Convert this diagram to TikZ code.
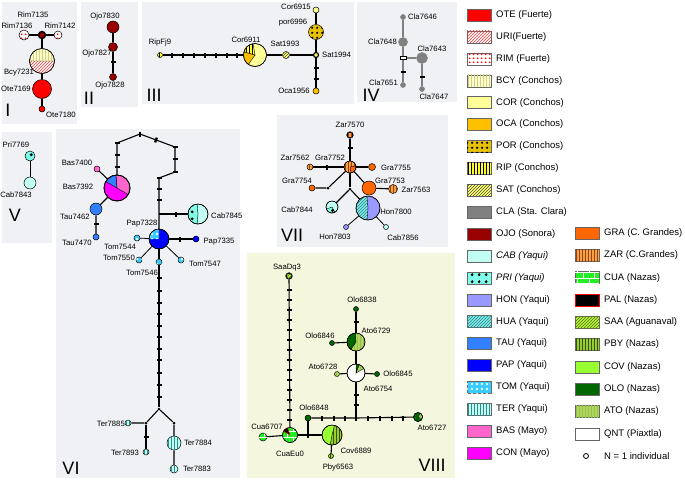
\documentclass[tikz,border=0pt]{standalone}
\usepackage{fontspec}
\setmainfont{Liberation Sans}
\usetikzlibrary{patterns}
\pgfdeclarepatternformonly{bigdots}{\pgfqpoint{0pt}{0pt}}{\pgfqpoint{4pt}{4pt}}{\pgfqpoint{4pt}{4pt}}{\pgfpathcircle{\pgfqpoint{2pt}{2pt}}{1.1pt}\pgfusepath{fill}}
\pgfdeclarepatternformonly{pordots}{\pgfqpoint{0pt}{0pt}}{\pgfqpoint{5pt}{5pt}}{\pgfqpoint{5pt}{5pt}}{\pgfpathcircle{\pgfqpoint{2.5pt}{2.5pt}}{1.4pt}\pgfusepath{fill}}
\pgfdeclarepatternformonly{pridots}{\pgfqpoint{0pt}{0pt}}{\pgfqpoint{7pt}{7pt}}{\pgfqpoint{7pt}{7pt}}{\pgfpathcircle{\pgfqpoint{3.5pt}{3.5pt}}{1.7pt}\pgfusepath{fill}}
\pgfdeclarepatternformonly{xmarks}{\pgfqpoint{0pt}{0pt}}{\pgfqpoint{5pt}{5pt}}{\pgfqpoint{5pt}{5pt}}{\pgfsetlinewidth{0.6pt}\pgfpathmoveto{\pgfqpoint{1pt}{1pt}}\pgfpathlineto{\pgfqpoint{3.5pt}{3.5pt}}\pgfpathmoveto{\pgfqpoint{1pt}{3.5pt}}\pgfpathlineto{\pgfqpoint{3.5pt}{1pt}}\pgfusepath{stroke}}
\definecolor{pgray}{HTML}{F0F1F5}
\definecolor{pyel}{HTML}{F4F6DD}
\definecolor{cOTE}{HTML}{FF0000}
\definecolor{cBCY}{HTML}{FFFFD0}
\definecolor{cBCYl}{HTML}{D0D080}
\definecolor{cCOR}{HTML}{FFFF99}
\definecolor{cOCA}{HTML}{FFC000}
\definecolor{cPOR}{HTML}{E6C200}
\definecolor{cRIP}{HTML}{FFFF33}
\definecolor{cSAT}{HTML}{FFFF66}
\definecolor{cCLA}{HTML}{808080}
\definecolor{cOJO}{HTML}{990000}
\definecolor{cCAB}{HTML}{C0FFF2}
\definecolor{cPRI}{HTML}{80FFEA}
\definecolor{cHON}{HTML}{9999FF}
\definecolor{cHUA}{HTML}{80E8E8}
\definecolor{cHUAl}{HTML}{2E8B8B}
\definecolor{cTAU}{HTML}{3380FF}
\definecolor{cPAP}{HTML}{0000FF}
\definecolor{cTOM}{HTML}{33CCFF}
\definecolor{cTER}{HTML}{C0FFF2}
\definecolor{cTERl}{HTML}{2E8B8B}
\definecolor{cBAS}{HTML}{FF66CC}
\definecolor{cCON}{HTML}{FF00FF}
\definecolor{cGRA}{HTML}{FF6600}
\definecolor{cZAR}{HTML}{FFA040}
\definecolor{cZARl}{HTML}{8B4513}
\definecolor{cCUA}{HTML}{22EE22}
\definecolor{cSAA}{HTML}{B8F040}
\definecolor{cSAAl}{HTML}{4D7A00}
\definecolor{cPBY}{HTML}{99CC33}
\definecolor{cPBYl}{HTML}{335500}
\definecolor{cCOV}{HTML}{99FF33}
\definecolor{cOLO}{HTML}{006600}
\definecolor{cATO}{HTML}{B0D860}
\definecolor{cATOl}{HTML}{98C048}
\newcommand\hap[4]{\node[hap, minimum size=#3, #4] (#1) at #2 {};}
\newcommand\hwedge[5]{\filldraw[#5, draw=black, line width=0.4pt] (#1.center) -- ++(#3:#2) arc[start angle=#3, end angle=#4, radius=#2] -- cycle;}
\newcommand\rimline[2]{\draw[line width=0.5pt] (#1.center) circle[radius=#2];}
\begin{document}
\begin{tikzpicture}[x=1pt,y=1pt,
 hap/.style={circle, draw=black, line width=0.5pt, inner sep=0pt},
 ln/.style={line width=1.1pt, black},
 lng/.style={line width=1.1pt, cCLA},
 tk/.style={fill=black, inner sep=0pt, minimum width=5pt, minimum height=2.4pt, rotate=#1},
 tk/.default=0,
 jdot/.style={circle, fill=black, inner sep=0pt, minimum size=3pt},
 lab/.style={font=\fontsize{7.7}{8}\selectfont, inner sep=0pt},
 pnum/.style={font=\fontsize{18}{18}\selectfont, inner sep=0pt},
 lgbox/.style={rectangle, draw=black!60, line width=0.4pt, minimum width=24pt, minimum height=12pt, inner sep=0pt},
 lgtext/.style={font=\fontsize{9.5}{10}\selectfont, inner sep=0pt, anchor=west},
 fOTE/.style={fill=cOTE},
 fURI/.style={fill=white, postaction={pattern=north east lines, pattern color=red!80}},
 fRIM/.style={fill=white, postaction={pattern=bigdots, pattern color=red}},
 fBCY/.style={fill=cBCY, postaction={pattern=vertical lines, pattern color=cBCYl}},
 fCOR/.style={fill=cCOR},
 fOCA/.style={fill=cOCA},
 fPOR/.style={fill=cPOR, postaction={pattern=pordots, pattern color=black}},
 fRIP/.style={fill=cRIP, postaction={pattern=vertical lines, pattern color=black}},
 fSAT/.style={fill=cSAT, postaction={pattern=north east lines, pattern color=black!70}},
 fCLA/.style={fill=cCLA},
 fOJO/.style={fill=cOJO},
 fCAB/.style={fill=cCAB},
 fPRI/.style={fill=cPRI, postaction={pattern=pridots, pattern color=black}},
 fHON/.style={fill=cHON},
 fHUA/.style={fill=cHUA, postaction={pattern=north east lines, pattern color=cHUAl}},
 fTAU/.style={fill=cTAU},
 fPAP/.style={fill=cPAP},
 fTOM/.style={fill=cTOM, postaction={pattern=xmarks, pattern color=white}},
 fTER/.style={fill=cTER, postaction={pattern=vertical lines, pattern color=cTERl}},
 fBAS/.style={fill=cBAS},
 fCON/.style={fill=cCON},
 fGRA/.style={fill=cGRA},
 fZAR/.style={fill=cZAR, postaction={pattern=vertical lines, pattern color=cZARl}},
 fCUA/.style={fill=cCUA, postaction={pattern=bricks, pattern color=white}},
 fPAL/.style={fill=black},
 fSAA/.style={fill=cSAA, postaction={pattern=north east lines, pattern color=cSAAl}},
 fPBY/.style={fill=cPBY, postaction={pattern=vertical lines, pattern color=cPBYl}},
 fCOV/.style={fill=cCOV},
 fOLO/.style={fill=cOLO},
 fATO/.style={fill=cATO, postaction={pattern=vertical lines, pattern color=cATOl}},
 fQNT/.style={fill=white}]
\useasboundingbox (0,0) rectangle (685,-480);
\fill[white] (0,0) rectangle (685,-480);
% panels
\fill[pgray] (2,-2) rectangle (77,-124);
\fill[pgray] (81,-2) rectangle (138,-107);
\fill[pgray] (142,-2) rectangle (354,-104);
\fill[pgray] (357,-2) rectangle (457,-102);
\fill[pgray] (2,-132) rectangle (52,-243);
\fill[pgray] (56,-129) rectangle (240,-478);
\fill[pgray] (277,-115) rectangle (448,-247);
\fill[pyel] (247,-253) rectangle (455,-478);

% ---------- Panel I
\hap{rim7136}{(24,-35)}{10pt}{fRIM}
\node[hap, minimum size=7pt, fill=cOJO, line width=1.4pt] (rim7135) at (42,-35) {};
\hap{rim7142}{(58,-35)}{8pt}{fRIM}
\hap{bcy7231}{(42,-61)}{25pt}{fURI}
\hwedge{bcy7231}{12.5pt}{0}{180}{fBCY}
\rimline{bcy7231}{12.5pt}
\hap{ote7169}{(42,-89)}{19pt}{fOTE}
\hap{ote7180}{(42,-109)}{6pt}{fOTE}
\draw[ln] (rim7136) -- (rim7135) -- (rim7142);
\draw[ln] (rim7135) -- (bcy7231) -- (ote7169) -- (ote7180);
\node[lab] (lrim7135) at (33,-15) {Rim7135};
\node[lab] (lrim7136) at (17,-26) {Rim7136};
\node[lab] (lrim7142) at (60,-26) {Rim7142};
\node[lab] (lbcy7231) at (19,-73) {Bcy7231};
\node[lab, anchor=west] (lote7169) at (1,-89) {Ote7169};
\node[lab] (lote7180) at (61,-115) {Ote7180};
\node[pnum] (nI) at (8,-110) {I};

% ---------- Panel II
\hap{ojo7830}{(113,-27)}{12pt}{fOJO}
\hap{ojo7827}{(113,-47)}{9pt}{fOJO}
\hap{ojo7828}{(113,-77)}{7pt}{fOJO}
\draw[ln] (ojo7830) -- (ojo7827) -- (ojo7828);
\node[tk] (t2a) at (113,-62) {};
\node[lab] (lojo7830) at (105,-17) {Ojo7830};
\node[lab] (lojo7827) at (97,-54) {Ojo7827};
\node[lab] (lojo7828) at (110,-86) {Ojo7828};
\node[pnum] (nII) at (89,-98) {II};

% ---------- Panel III
\hap{ripfj9}{(160,-55)}{5pt}{fRIP}
\hap{cor6911}{(255,-55)}{23pt}{fCOR}
\hwedge{cor6911}{11.5pt}{100}{165}{fRIP}
\hwedge{cor6911}{11.5pt}{165}{235}{fOCA}
\rimline{cor6911}{11.5pt}
\hap{sat1993}{(286,-55)}{7pt}{fSAT}
\node[hap, minimum size=5pt, fill=cSAT, line width=1.2pt] (sat1994) at (316,-55) {};
\hap{cor6915}{(316,-10)}{6pt}{fCOR}
\hap{por6996}{(316,-32)}{15pt}{fPOR}
\hap{oca1956}{(316,-91)}{6pt}{fOCA}
\draw[ln] (ripfj9) -- (cor6911) -- (sat1993) -- (sat1994);
\draw[ln] (cor6915) -- (por6996) -- (sat1994) -- (oca1956);
\foreach \x [count=\i] in {172,183,194,205,216,227,237} \node[tk=90] (t3\i) at (\x,-55) {};
\node[tk] (t3h) at (316,-68) {};
\node[tk] (t3j) at (316,-79) {};
\node[lab] (lripfj9) at (160,-43) {RipFj9};
\node[lab] (lcor6911) at (246,-40) {Cor6911};
\node[lab] (lsat1993) at (285,-44) {Sat1993};
\node[lab, anchor=west] (lsat1994) at (322,-55) {Sat1994};
\node[lab] (lcor6915) at (296,-7) {Cor6915};
\node[lab] (lpor6996) at (293,-23) {por6996};
\node[lab] (loca1956) at (294,-91) {Oca1956};
\node[pnum] (nIII) at (154,-95) {III};

% ---------- Panel IV
\hap{cla7646}{(403,-17)}{5pt}{fCLA, draw=cCLA}
\hap{cla7648}{(403,-42)}{9pt}{fCLA, draw=cCLA}
\hap{cla7643}{(422,-58)}{11pt}{fCLA, draw=cCLA}
\hap{cla7651}{(403,-85)}{5pt}{fCLA, draw=cCLA}
\hap{cla7647}{(422,-89)}{5pt}{fCLA, draw=cCLA}
\coordinate (j4) at (403,-58);
\draw[lng] (cla7646) -- (cla7648) -- (j4) -- (cla7651);
\draw[lng] (j4) -- (cla7643) -- (cla7647);
\node[draw=black, fill=white, line width=0.7pt, minimum width=6pt, minimum height=3pt, inner sep=0pt] (box4) at (403,-58) {};
\node[tk] (t4a) at (403,-72) {};
\node[tk] (t4b) at (422,-77) {};
\node[lab, anchor=west] (lcla7646) at (408,-17) {Cla7646};
\node[lab, anchor=east] (lcla7648) at (397,-42) {Cla7648};
\node[lab] (lcla7643) at (432,-49) {Cla7643};
\node[lab, anchor=east] (lcla7651) at (398,-83) {Cla7651};
\node[lab] (lcla7647) at (434,-97) {Cla7647};
\node[pnum] (nIV) at (371,-95) {IV};

% ---------- Panel V
\hap{pri7769}{(30,-156)}{10pt}{fPRI}
\hap{cab7843}{(30,-183)}{12pt}{fCAB}
\draw[ln, line width=0.8pt] (pri7769) -- (cab7843);
\node[lab] (lpri7769) at (16,-145) {Pri7769};
\node[lab] (lcab7843) at (16,-195) {Cab7843};
\node[pnum] (nV) at (15,-215) {V};

% ---------- Panel VI
\hap{bas7392}{(117,-188)}{26pt}{fCON}
\hwedge{bas7392}{13pt}{-30}{95}{fBAS}
\hwedge{bas7392}{13pt}{95}{150}{fTAU}
\draw[line width=0.9pt] (bas7392.center) circle[radius=13pt];
\hap{bas7400}{(97,-169)}{6pt}{fBAS}
\hap{tau7462}{(96,-209)}{12pt}{fTAU}
\hap{tau7470}{(96,-237)}{6pt}{fTAU}
\hap{cab7845}{(198,-214)}{20pt}{fCAB}
\hwedge{cab7845}{10pt}{95}{265}{fPRI}
\rimline{cab7845}{10pt}
\hap{pap7328}{(159,-239)}{20pt}{fPAP}
\hwedge{pap7328}{10pt}{90}{180}{fTOM}
\rimline{pap7328}{10pt}
\hap{pap7335}{(196,-239)}{6pt}{fPAP}
\hap{tom7544}{(137,-238)}{6pt}{fTOM}
\hap{tom7550}{(139,-260)}{6pt}{fTOM}
\hap{tom7546}{(159,-262)}{6pt}{fTOM}
\hap{tom7547}{(181,-260)}{6pt}{fTOM}
\coordinate (c1) at (117,-143);
\coordinate (c2) at (140,-134);
\coordinate (c3) at (175,-147);
\coordinate (c4) at (175,-172);
\coordinate (c5) at (159,-178);
\coordinate (jA) at (159,-214);
\node[jdot] (jB) at (159,-409) {};
\node[jdot] (jC) at (146,-423) {};
\node[jdot] (jD) at (174,-423) {};
\hap{ter7885}{(128,-423)}{6pt}{fTER}
\hap{ter7893}{(146,-452)}{6pt}{fTER}
\hap{ter7884}{(174,-443)}{14pt}{fTER}
\hap{ter7883}{(174,-469)}{8pt}{fTER}
\draw[ln] (bas7392) -- (c1) -- (c2) -- (c3) -- (c4) -- (c5) -- (jA) -- (pap7328);
\draw[ln] (jA) -- (cab7845);
\draw[ln] (bas7400) -- (bas7392) -- (tau7462) -- (tau7470);
\draw[ln] (pap7328) -- (pap7335);
\draw[ln, line width=0.8pt] (pap7328) -- (tom7544);
\draw[ln, line width=0.8pt] (pap7328) -- (tom7550);
\draw[ln, line width=0.8pt] (pap7328) -- (tom7547);
\draw[ln] (pap7328) -- (tom7546) -- (jB);
\draw[ln] (jB) -- (jC) -- (ter7885);
\draw[ln] (jC) -- (ter7893);
\draw[ln] (jB) -- (jD) -- (ter7884) -- (ter7883);
\node[tk] (t6a) at (117,-155) {};
\node[tk] (t6b) at (117,-167) {};
\node[tk] (t6c) at (c1) {};
\node[tk=90] (t6d) at (c2) {};
\node[tk=70] (t6e) at (156,-140) {};
\node[tk] (t6f) at (c3) {};
\node[tk] (t6g) at (175,-159) {};
\node[tk] (t6h) at (c4) {};
\node[tk] (t6i) at (c5) {};
\node[tk] (t6j) at (159,-189) {};
\node[tk] (t6k) at (159,-200) {};
\node[tk=90] (t6l) at (176,-214) {};
\node[tk=90] (t6m) at (180,-239) {};
\node[tk] (t6n) at (96,-224) {};
\foreach \y [count=\i] in {278,291,303,314,326,337,349,360,373,385,397} \node[tk] (t6v\i) at (159,-\y) {};
\node[tk] (t6o) at (146,-437) {};
\node[lab] (lbas7400) at (77,-163) {Bas7400};
\node[lab] (lbas7392) at (78,-187) {Bas7392};
\node[lab] (ltau7462) at (75,-217) {Tau7462};
\node[lab] (ltau7470) at (77,-243) {Tau7470};
\node[lab] (lpap7328) at (142,-224) {Pap7328};
\node[lab, anchor=west] (lcab7845) at (211,-216) {Cab7845};
\node[lab] (lpap7335) at (219,-242) {Pap7335};
\node[lab] (ltom7544) at (120,-247) {Tom7544};
\node[lab, anchor=east] (ltom7550) at (135,-258) {Tom7550};
\node[lab] (ltom7547) at (205,-264) {Tom7547};
\node[lab] (ltom7546) at (142,-273) {Tom7546};
\node[lab, anchor=east] (lter7885) at (125,-424) {Ter7885};
\node[lab] (lter7893) at (125,-453) {Ter7893};
\node[lab] (lter7884) at (198,-443) {Ter7884};
\node[lab] (lter7883) at (197,-469) {Ter7883};
\node[pnum] (nVI) at (71,-468) {VI};

% ---------- Panel VII
\node[hap, minimum size=6pt, fZAR, line width=1.2pt] (zar7570) at (350,-135) {};
\hap{gra7752}{(350,-167)}{12pt}{fZAR}
\hwedge{gra7752}{6pt}{-80}{10}{fGRA}
\rimline{gra7752}{6pt}
\hap{zar7562}{(310,-167)}{6pt}{fZAR}
\hap{gra7755}{(372,-167)}{7pt}{fGRA}
\hap{gra7754}{(312,-188)}{6pt}{fGRA}
\node[jdot] (jv1) at (328,-188) {};
\hap{gra7753}{(369,-188)}{14pt}{fGRA}
\hap{zar7563}{(393,-189)}{9pt}{fZAR}
\node[jdot] (jv2) at (350,-189) {};
\hap{cab7844}{(332,-207)}{12pt}{fCAB}
\hwedge{cab7844}{6pt}{200}{300}{fPRI}
\rimline{cab7844}{6pt}
\hap{hon7800}{(368,-208)}{24pt}{fHON}
\hwedge{hon7800}{12pt}{95}{265}{fHUA}
\rimline{hon7800}{12pt}
\hap{hon7803}{(346,-227)}{5pt}{fHON}
\hap{cab7856}{(386,-227)}{5pt}{fCAB}
\draw[ln] (zar7570) -- (gra7752);
\draw[ln] (zar7562) -- (gra7752) -- (gra7755);
\draw[ln] (gra7754) -- (jv1) -- (gra7752);
\draw[ln] (gra7752) -- (gra7753) -- (zar7563);
\draw[ln] (gra7752) -- (jv2);
\draw[ln] (jv2) -- (cab7844);
\draw[ln] (jv2) -- (hon7800);
\draw[ln, line width=0.8pt] (hon7800) -- (hon7803);
\draw[ln, line width=0.8pt] (hon7800) -- (cab7856);
\node[tk] (t7a) at (350,-148) {};
\node[tk=90] (t7b) at (327,-167) {};
\node[lab] (lzar7570) at (350,-125) {Zar7570};
\node[lab] (lgra7752) at (330,-158) {Gra7752};
\node[lab] (lzar7562) at (295,-158) {Zar7562};
\node[lab] (lgra7755) at (396,-168) {Gra7755};
\node[lab] (lgra7754) at (297,-181) {Gra7754};
\node[lab] (lgra7753) at (390,-181) {Gra7753};
\node[lab] (lzar7563) at (416,-190) {Zar7563};
\node[lab] (lcab7844) at (297,-210) {Cab7844};
\node[lab] (lhon7800) at (396,-212) {Hon7800};
\node[lab] (lhon7803) at (335,-237) {Hon7803};
\node[lab] (lcab7856) at (403,-238) {Cab7856};
\node[pnum] (nVII) at (292,-235) {VII};

% ---------- Panel VIII
\node[hap, minimum size=6pt, fSAA, line width=1.2pt] (saadq3) at (289,-276) {};
\hap{cuaeu0}{(290,-435)}{15pt}{fCUA}
\filldraw[fill=black, draw=red, line width=0.4pt] (cuaeu0.center) -- ++(110:7.5pt) arc[start angle=110, end angle=150, radius=7.5pt] -- cycle;
\rimline{cuaeu0}{7.5pt}
\hap{cua6707}{(263,-437)}{8pt}{fCUA}
\coordinate (jw1) at (308,-435);
\hap{olo6848}{(308,-418)}{6pt}{fOLO}
\hap{cov6889}{(332,-435)}{20pt}{fCOV}
\hwedge{cov6889}{10pt}{-100}{75}{fPBY}
\rimline{cov6889}{10pt}
\hap{pby6563}{(331,-456)}{5pt}{fPBY}
\coordinate (jw2) at (356,-418);
\hap{ato6727}{(418,-417)}{9pt}{fOLO}
\hwedge{ato6727}{4.5pt}{-30}{60}{fATO}
\rimline{ato6727}{4.5pt}
\hap{ato6754}{(356,-373)}{18pt}{fQNT}
\hwedge{ato6754}{9pt}{30}{70}{fATO}
\hwedge{ato6754}{9pt}{70}{88}{fOLO}
\rimline{ato6754}{9pt}
\hap{ato6728}{(337,-374)}{5pt}{fATO}
\hap{olo6845}{(377,-374)}{5pt}{fOLO}
\hap{ato6729}{(356,-342)}{18pt}{fATO}
\hwedge{ato6729}{9pt}{95}{235}{fOLO}
\rimline{ato6729}{9pt}
\hap{olo6846}{(332,-343)}{5pt}{fOLO}
\hap{olo6838}{(356,-309)}{5pt}{fOLO}
\draw[ln] (saadq3) -- (cuaeu0);
\draw[ln] (cua6707) -- (cuaeu0);
\draw[ln] (cuaeu0) -- (jw1) -- (cov6889);
\draw[ln] (jw1) -- (olo6848);
\draw[ln] (olo6848) -- (jw2) -- (ato6727);
\draw[ln] (jw2) -- (ato6754);
\draw[ln] (ato6728) -- (ato6754) -- (olo6845);
\draw[ln] (ato6754) -- (ato6729);
\draw[ln] (olo6846) -- (ato6729);
\draw[ln] (ato6729) -- (olo6838);
\draw[ln] (cov6889) -- (pby6563);
\foreach \y [count=\i] in {290,300,310,320,330,340,350,360,370,380,390,400,410,420} \node[tk] (t8v\i) at (289.5,-\y) {};
\node[tk=90] (t8a) at (jw1) {};
\foreach \x [count=\i] in {322,334,345,356,368,380,392,403} \node[tk=90] (t8h\i) at (\x,-418) {};
\node[tk] (t8b) at (356,-395) {};
\node[tk] (t8c) at (356,-405) {};
\node[tk] (t8d) at (356,-322) {};
\node[lab] (lsaadq3) at (287,-268) {SaaDq3};
\node[lab] (lolo6838) at (362,-300) {Olo6838};
\node[lab] (lato6729) at (376,-331) {Ato6729};
\node[lab] (lolo6846) at (320,-336) {Olo6846};
\node[lab] (lato6728) at (323,-367) {Ato6728};
\node[lab] (lolo6845) at (398,-374) {Olo6845};
\node[lab] (lato6754) at (378,-389) {Ato6754};
\node[lab] (lolo6848) at (314,-408) {Olo6848};
\node[lab] (lato6727) at (432,-428) {Ato6727};
\node[lab] (lcua6707) at (267,-427) {Cua6707};
\node[lab] (lcuaeu0) at (290,-454) {CuaEu0};
\node[lab] (lcov6889) at (356,-451) {Cov6889};
\node[lab] (lpby6563) at (338,-467) {Pby6563};
\node[pnum] (nVIII) at (432,-465) {VIII};

% ---------- Legend left column
\node[lgbox, fOTE] (kOTE) at (479,-15) {};   \node[lgtext] (kOTEt) at (496,-15) {OTE (Fuerte)};
\node[lgbox, fURI] (kURI) at (479,-36.9) {}; \node[lgtext] (kURIt) at (496,-36.9) {URI(Fuerte)};
\node[lgbox, fRIM] (kRIM) at (479,-58.8) {}; \node[lgtext] (kRIMt) at (496,-58.8) {RIM (Fuerte)};
\node[lgbox, fBCY] (kBCY) at (479,-80.7) {}; \node[lgtext] (kBCYt) at (496,-80.7) {BCY (Conchos)};
\node[lgbox, fCOR] (kCOR) at (479,-102.6) {}; \node[lgtext] (kCORt) at (496,-102.6) {COR (Conchos)};
\node[lgbox, fOCA] (kOCA) at (479,-124.5) {}; \node[lgtext] (kOCAt) at (496,-124.5) {OCA (Conchos)};
\node[lgbox, fPOR] (kPOR) at (479,-146.4) {}; \node[lgtext] (kPORt) at (496,-146.4) {POR (Conchos)};
\node[lgbox, fRIP] (kRIP) at (479,-168.3) {}; \node[lgtext] (kRIPt) at (496,-168.3) {RIP (Conchos)};
\node[lgbox, fSAT] (kSAT) at (479,-190.2) {}; \node[lgtext] (kSATt) at (496,-190.2) {SAT (Conchos)};
\node[lgbox, fCLA] (kCLA) at (479,-212.1) {}; \node[lgtext] (kCLAt) at (496,-212.1) {CLA (Sta. Clara)};
\node[lgbox, fOJO] (kOJO) at (479,-234) {};   \node[lgtext] (kOJOt) at (496,-234) {OJO (Sonora)};
\node[lgbox, fCAB] (kCAB) at (479,-255.9) {}; \node[lgtext] (kCABt) at (496,-255.9) {\itshape CAB (Yaqui)};
\node[lgbox, fPRI] (kPRI) at (479,-277.8) {}; \node[lgtext] (kPRIt) at (496,-277.8) {\itshape PRI (Yaqui)};
\node[lgbox, fHON] (kHON) at (479,-299.7) {}; \node[lgtext] (kHONt) at (496,-299.7) {HON (Yaqui)};
\node[lgbox, fHUA] (kHUA) at (479,-321.6) {}; \node[lgtext] (kHUAt) at (496,-321.6) {HUA (Yaqui)};
\node[lgbox, fTAU] (kTAU) at (479,-343.5) {}; \node[lgtext] (kTAUt) at (496,-343.5) {TAU (Yaqui)};
\node[lgbox, fPAP] (kPAP) at (479,-365.4) {}; \node[lgtext] (kPAPt) at (496,-365.4) {PAP (Yaqui)};
\node[lgbox, fTOM] (kTOM) at (479,-387.3) {}; \node[lgtext] (kTOMt) at (496,-387.3) {TOM (Yaqui)};
\node[lgbox, fTER] (kTER) at (479,-409.2) {}; \node[lgtext] (kTERt) at (496,-409.2) {TER (Yaqui)};
\node[lgbox, fBAS] (kBAS) at (479,-431.1) {}; \node[lgtext] (kBASt) at (496,-431.1) {BAS (Mayo)};
\node[lgbox, fCON] (kCON) at (479,-453) {};   \node[lgtext] (kCONt) at (496,-453) {CON (Mayo)};
% ---------- Legend right column
\node[lgbox, fGRA] (kGRA) at (587,-233) {};   \node[lgtext] (kGRAt) at (604,-233) {GRA (C. Grandes)};
\node[lgbox, fZAR] (kZAR) at (587,-255.3) {}; \node[lgtext] (kZARt) at (604,-255.3) {ZAR (C.Grandes)};
\node[lgbox, fCUA] (kCUA) at (587,-277.6) {}; \node[lgtext] (kCUAt) at (604,-277.6) {CUA (Nazas)};
\node[lgbox, fPAL, draw=red] (kPAL) at (587,-299.9) {}; \node[lgtext] (kPALt) at (604,-299.9) {PAL (Nazas)};
\node[lgbox, fSAA] (kSAA) at (587,-322.2) {}; \node[lgtext] (kSAAt) at (604,-322.2) {SAA (Aguanaval)};
\node[lgbox, fPBY] (kPBY) at (587,-344.5) {}; \node[lgtext] (kPBYt) at (604,-344.5) {PBY (Nazas)};
\node[lgbox, fCOV] (kCOV) at (587,-366.8) {}; \node[lgtext] (kCOVt) at (604,-366.8) {COV (Nazas)};
\node[lgbox, fOLO] (kOLO) at (587,-389.1) {}; \node[lgtext] (kOLOt) at (604,-389.1) {OLO (Nazas)};
\node[lgbox, fATO] (kATO) at (587,-411.4) {}; \node[lgtext] (kATOt) at (604,-411.4) {ATO (Nazas)};
\node[lgbox, fQNT] (kQNT) at (587,-433.7) {}; \node[lgtext] (kQNTt) at (604,-433.7) {QNT (Piaxtla)};
\node[circle, draw=black, line width=0.8pt, minimum size=5pt, inner sep=0pt] (kN) at (586,-456) {};
\node[lgtext] (kNt) at (604,-456) {N = 1 individual};
\end{tikzpicture}
\end{document}
